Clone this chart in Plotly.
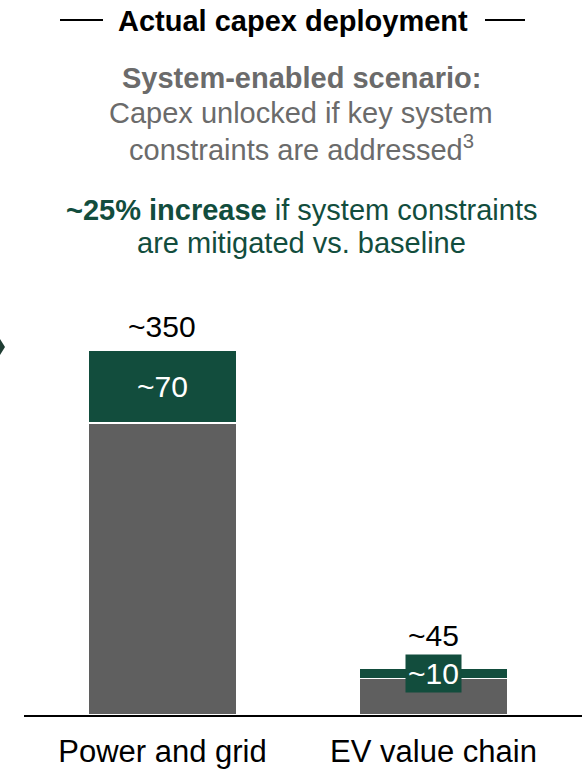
import plotly.graph_objects as go

W, H = 582, 769

categories = ["Power and grid", "EV value chain"]
baseline_values = [280, 35]
increase_values = [70, 10]
total_labels = ["~350", "~45"]
increase_labels = ["~70", "~10"]

GRAY = "#5f5f5f"
GREEN = "#124d3d"
SUB = "#6b6b6b"
FONT = "Liberation Sans, Arial, sans-serif"

# label placement styling (pixel shifts), kept separate from data
total_label_shift = [5, 14]

def px(x):
    return x / W

def py(y):
    return 1 - y / H

y_bottom, y_top = 715, 300
units_per_px = 350 / 365
y_max = (y_bottom - y_top) * units_per_px

fig = go.Figure()
fig.add_trace(go.Bar(
    x=categories, y=baseline_values, marker=dict(color=GRAY, line=dict(color="white", width=1.5)),
    width=0.55, hoverinfo="skip"))
fig.add_trace(go.Bar(
    x=categories, y=increase_values, marker=dict(color=GREEN, line=dict(color="white", width=1.5)),
    width=0.55, hoverinfo="skip"))

annotations = []
totals = [b + i for b, i in zip(baseline_values, increase_values)]
for c, t, lab, ys in zip(categories, totals, total_labels, total_label_shift):
    annotations.append(dict(x=c, y=t, xref="x", yref="y", text=lab, showarrow=False,
                            yanchor="bottom", yshift=ys, font=dict(size=30, color="black", family=FONT)))
for k, (c, b, i, lab) in enumerate(zip(categories, baseline_values, increase_values, increase_labels)):
    a = dict(x=c, y=b + i / 2, xref="x", yref="y", text=lab, showarrow=False,
             yanchor="middle", font=dict(size=30, color="white", family=FONT))
    if k == 1:
        a.update(bgcolor=GREEN, borderpad=2)
    annotations.append(a)

text_lines = [
    ("<b>Actual capex deployment</b>", 293, 21, "black"),
    ("<b>System-enabled scenario:</b>", 301, 78, SUB),
    ("Capex unlocked if key system", 301, 113, SUB),
    ("constraints are addressed<sup>3</sup>", 301, 148, SUB),
    ("<b>~25% increase</b> if system constraints", 301, 210, GREEN),
    ("are mitigated vs. baseline", 301, 243, GREEN),
]
for txt, xc, yc, col in text_lines:
    annotations.append(dict(x=px(xc), y=py(yc), xref="paper", yref="paper", text=txt,
                            showarrow=False, xanchor="center", yanchor="middle",
                            font=dict(size=29, color=col, family=FONT)))

shapes = [
    dict(type="line", xref="paper", yref="paper", x0=px(60), x1=px(103), y0=py(20), y1=py(20),
         line=dict(color="black", width=2)),
    dict(type="line", xref="paper", yref="paper", x0=px(485), x1=px(525), y0=py(20), y1=py(20),
         line=dict(color="black", width=2)),
    dict(type="path", xref="paper", yref="paper",
         path=f"M 0 {py(339)} L {px(5)} {py(347)} L 0 {py(355)} Z",
         fillcolor="#1f3d33", line=dict(width=0)),
]

fig.update_layout(
    width=W, height=H, barmode="stack", showlegend=False,
    margin=dict(l=0, r=0, t=0, b=0),
    paper_bgcolor="white", plot_bgcolor="white",
    annotations=annotations, shapes=shapes,
    font=dict(family=FONT),
    xaxis=dict(domain=[px(24), 1], range=[-0.511, 1.548], showline=True, linecolor="black",
               linewidth=2, showgrid=False, zeroline=False, ticks="", ticklabelstandoff=8,
               tickfont=dict(size=31, color="black", family=FONT), fixedrange=True),
    yaxis=dict(domain=[py(y_bottom), py(y_top)], range=[0, y_max], visible=False, fixedrange=True),
)

fig.write_html("out.html", config={"displayModeBar": False},
               post_script="document.body.style.margin='0';document.body.style.overflow='hidden';")
